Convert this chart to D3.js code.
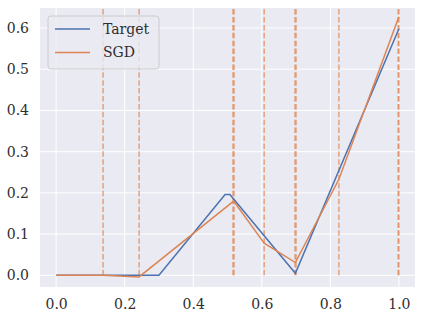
<!DOCTYPE html>
<html>
<head>
<meta charset="utf-8">
<script src="https://cdn.jsdelivr.net/npm/d3@7"></script>
<style>
  body { margin: 0; background: #fff; }
  text { font-family: "DejaVu Serif", "Liberation Serif", serif; fill: #2e2e2e; }
</style>
</head>
<body>
<div id="chart"></div>
<script>
// values
var targetX = [0.0, 0.3, 0.493, 0.507, 0.698, 1.0];
var targetY = [0.0, 0.0, 0.196, 0.196, 0.005, 0.598];

var sgdX = [0.0, 0.137, 0.242, 0.518, 0.607, 0.698, 0.825, 1.0];
var sgdY = [0.0, 0.0, -0.004, 0.180, 0.078, 0.031, 0.233, 0.627];

// knot positions (some repeated, which makes them look heavier)
var knots = [0.137, 0.242, 0.516, 0.519, 0.607, 0.697, 0.700, 0.825, 0.998, 1.0];

var xTicks = [0.0, 0.2, 0.4, 0.6, 0.8, 1.0];
var yTicks = [0.0, 0.1, 0.2, 0.3, 0.4, 0.5, 0.6];

var width = 423, height = 321;
var margin = { top: 8, right: 8, bottom: 34, left: 40 };

var svg = d3.select("#chart")
  .append("svg")
  .attr("width", width)
  .attr("height", height);

var x = d3.scaleLinear()
  .domain([-0.047, 1.047])
  .range([margin.left, width - margin.right]);

var y = d3.scaleLinear()
  .domain([-0.0284, 0.6485])
  .range([height - margin.bottom, margin.top]);

// background
svg.append("rect")
  .attr("x", margin.left)
  .attr("y", margin.top)
  .attr("width", width - margin.left - margin.right)
  .attr("height", height - margin.top - margin.bottom)
  .attr("fill", "#eaeaf2");

// grid
var grid = svg.append("g").attr("stroke", "#fff").attr("stroke-width", 1);
grid.selectAll(".gx").data(xTicks).enter().append("line")
  .attr("x1", d => x(d)).attr("x2", d => x(d))
  .attr("y1", margin.top).attr("y2", height - margin.bottom);
grid.selectAll(".gy").data(yTicks).enter().append("line")
  .attr("x1", margin.left).attr("x2", width - margin.right)
  .attr("y1", d => y(d)).attr("y2", d => y(d));

// axes labels (no tick marks, like seaborn darkgrid)
var xAxis = svg.append("g")
  .attr("transform", "translate(0," + (height - margin.bottom) + ")")
  .call(d3.axisBottom(x).tickValues(xTicks).tickFormat(d3.format(".1f")).tickSize(0).tickPadding(12));
var yAxis = svg.append("g")
  .attr("transform", "translate(" + margin.left + ",0)")
  .call(d3.axisLeft(y).tickValues(yTicks).tickFormat(d3.format(".1f")).tickSize(0).tickPadding(11));
[xAxis, yAxis].forEach(a => {
  a.select(".domain").remove();
  a.selectAll("text").style("font-size", "14px").attr("fill", "#2e2e2e");
});

// knots
svg.append("g").selectAll("line").data(knots).enter().append("line")
  .attr("x1", d => x(d)).attr("x2", d => x(d))
  .attr("y1", y(0)).attr("y2", margin.top)
  .attr("stroke", "#dd8452")
  .attr("stroke-opacity", 0.7)
  .attr("stroke-width", 1.5)
  .attr("stroke-dasharray", "5.5,2.4");

var line = d3.line().x(d => x(d[0])).y(d => y(d[1]));

svg.append("path")
  .datum(d3.zip(targetX, targetY))
  .attr("d", line)
  .attr("fill", "none")
  .attr("stroke", "#4c72b0")
  .attr("stroke-width", 1.5);

svg.append("path")
  .datum(d3.zip(sgdX, sgdY))
  .attr("d", line)
  .attr("fill", "none")
  .attr("stroke", "#dd8452")
  .attr("stroke-width", 1.5);

// legend
var legend = svg.append("g").attr("transform", "translate(48,16)");
legend.append("rect")
  .attr("width", 111).attr("height", 53)
  .attr("rx", 3)
  .attr("fill", "#eaeaf2").attr("fill-opacity", 0.8)
  .attr("stroke", "#cccccc").attr("stroke-width", 1);
var names = ["Target", "SGD"];
var colors = ["#4c72b0", "#dd8452"];
names.forEach((n, i) => {
  var ly = 13 + i * 23.5;
  legend.append("line")
    .attr("x1", 7).attr("x2", 42)
    .attr("y1", ly).attr("y2", ly)
    .attr("stroke", colors[i]).attr("stroke-width", 1.5);
  legend.append("text")
    .attr("x", 55).attr("y", ly)
    .attr("dy", "0.35em")
    .style("font-size", "14px")
    .text(n);
});
</script>
</body>
</html>
